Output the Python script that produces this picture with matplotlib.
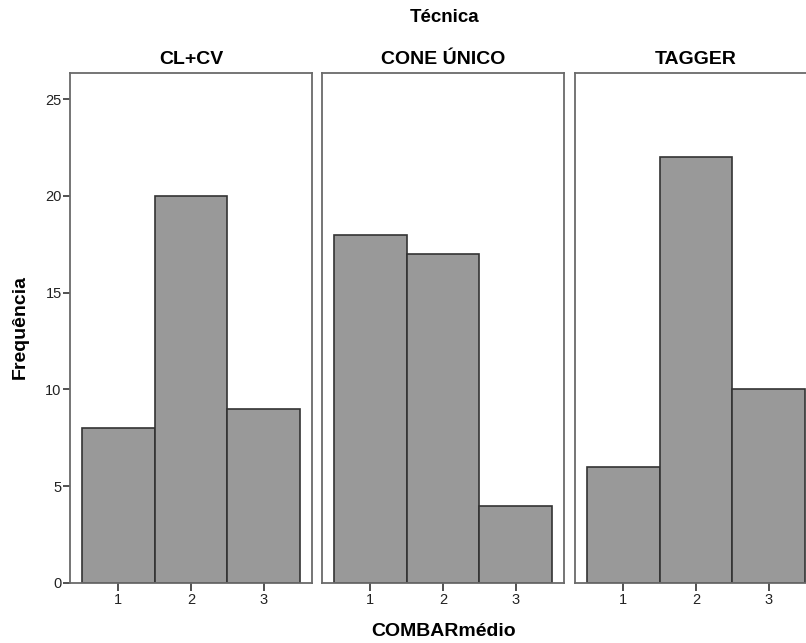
import matplotlib
matplotlib.use("Agg")
import matplotlib.pyplot as plt

plt.rcParams['font.family'] = ['Liberation Sans', 'DejaVu Sans']

# dados
tecnicas = ["CL+CV", "CONE ÚNICO", "TAGGER"]
categorias = [1, 2, 3]
freq_clcv = [8, 20, 9]
freq_cone = [18, 17, 4]
freq_tagger = [6, 22, 10]
yticks = [0, 5, 10, 15, 20, 25]

fig = plt.figure(figsize=(8.06, 6.43), dpi=100)

lefts = [70/806, 322/806, 575/806]
largura = 242/806
base = 1 - 583/643
altura = (583 - 73)/643

for k, (nome, freq) in enumerate(zip(tecnicas, [freq_clcv, freq_cone, freq_tagger])):
    ax = fig.add_axes([lefts[k], base, largura, altura])
    ax.bar(categorias, freq, width=1.0, color='#999999', edgecolor='#333333', linewidth=1.2)
    ax.set_xlim(0.335, 3.665)
    ax.set_ylim(0, 26.35)
    ax.set_xticks(categorias)
    ax.set_xticklabels([str(c) for c in categorias], fontsize=10.5, color='#222222')
    for sp in ax.spines.values():
        sp.set_color('#6a6a6a')
        sp.set_linewidth(1.3)
    ax.tick_params(axis='x', length=5.5, width=1.2, color='#333333', pad=1.5)
    if k == 0:
        ax.set_yticks(yticks)
        ax.set_yticklabels([str(v) for v in yticks], fontsize=10.5, color='#222222')
        ax.tick_params(axis='y', length=5, width=1.2, color='#333333', pad=1)
    else:
        ax.set_yticks([])
    # titulo de cada painel (tecnica)
    ax.set_title(nome, fontsize=14, fontweight='bold', pad=6.5)

fig.text(445/806, 1 - 18/643, "Técnica", ha='center', va='center', fontsize=13.5, fontweight='bold')
fig.text(444/806, 1 - 632/643, "COMBARmédio", ha='center', va='center', fontsize=14, fontweight='bold')
fig.text(20/806, 1 - 327/643, "Frequência", ha='center', va='center', rotation=90, fontsize=14, fontweight='bold')

fig.savefig("out.png", dpi=100)
